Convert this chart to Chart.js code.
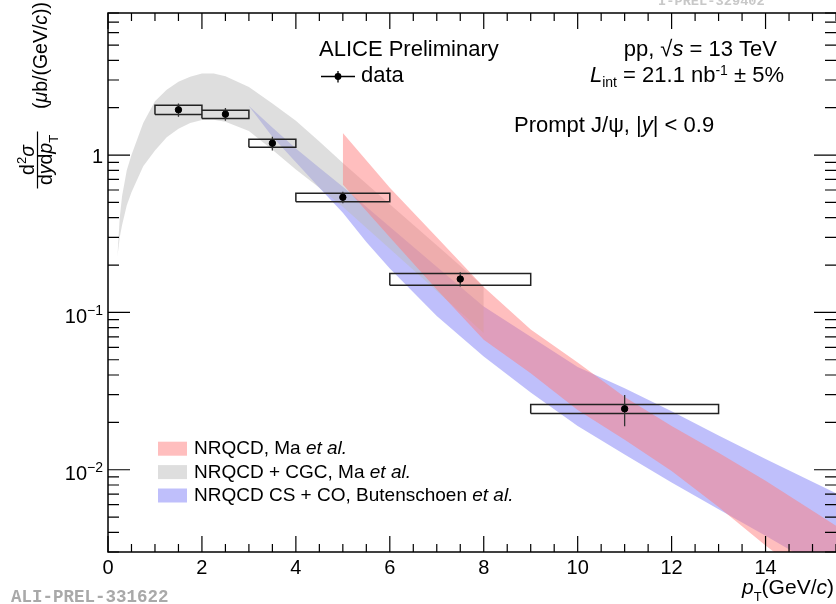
<!DOCTYPE html>
<html>
<head>
<meta charset="utf-8">
<script src="https://cdn.jsdelivr.net/npm/chart.js@4.4.1/dist/chart.umd.min.js"></script>
<style>
	html, body { margin: 0; padding: 0; background: #fff; }
	#c { display: block; }
</style>
</head>
<body>
<canvas id="c" width="836" height="604"></canvas>
<script>
// prompt J/psi cross section, pp 13 TeV, |y| < 0.9
const ptCenter = [1.5, 2.5, 3.5, 5, 7.5, 11];
const ptLow = [1, 2, 3, 4, 6, 9];
const ptHigh = [2, 3, 4, 6, 9, 13];
const xsec = [1.94, 1.82, 1.19, 0.539, 0.163, 0.0244];
const statErr = [0.19, 0.17, 0.12, 0.045, 0.017, 0.0055];
const sysErr = [0.13, 0.11, 0.07, 0.033, 0.014, 0.0016];

// NRQCD, Ma et al.
const maX = [5, 6, 7, 8, 9, 10, 11, 12, 13, 14, 15.5];
const maHigh = [1.38, 0.62, 0.30, 0.145, 0.078, 0.048, 0.029, 0.019, 0.0128, 0.0085, 0.0044];
const maLow = [0.65, 0.30, 0.14, 0.067, 0.041, 0.024, 0.0155, 0.0098, 0.0058, 0.0033, 0.0015];

// NRQCD + CGC, Ma et al.
const cgcX = [0.2, 0.25, 0.3, 0.4, 0.5, 0.75, 1, 1.25, 1.5, 1.75, 2, 2.25, 2.5, 3, 3.5, 4, 4.5, 5, 6, 7, 8];
const cgcHigh = [0.226, 0.40, 0.55, 0.80, 1.0, 1.6, 2.2, 2.6, 2.92, 3.15, 3.30, 3.30, 3.17, 2.71, 2.13, 1.65, 1.22, 0.89, 0.487, 0.267, 0.146];
const cgcLow = [0.226, 0.30, 0.36, 0.48, 0.58, 0.85, 1.07, 1.3, 1.47, 1.6, 1.67, 1.68, 1.63, 1.42, 1.08, 0.81, 0.62, 0.47, 0.254, 0.137, 0.074];

// NRQCD CS + CO, Butenschoen et al.
const bkX = [3, 3.5, 4, 4.5, 5, 5.5, 6, 7, 8, 9, 10, 11, 12, 13, 14, 15.5];
const bkHigh = [2.05, 1.5, 1.1, 0.83, 0.63, 0.47, 0.35, 0.195, 0.109, 0.07, 0.045, 0.033, 0.0235, 0.0165, 0.0117, 0.0071];
const bkLow = [2.05, 1.31, 0.90, 0.62, 0.43, 0.28, 0.19, 0.095, 0.0524, 0.031, 0.019, 0.0125, 0.0083, 0.0056, 0.0038, 0.0021];

const xTicks = [0, 2, 4, 6, 8, 10, 12, 14];
const xTickLabels = ['0', '2', '4', '6', '8', '10', '12', '14'];
const yTicks = [0.01, 0.1, 1];
const yTickLabels = [['10', '\u22122'], ['10', '\u22121'], ['1', '']];

const RED = 'rgba(255,125,125,0.5)';
const GRAY = 'rgba(190,190,190,0.5)';
const BLUE = 'rgba(128,128,248,0.5)';
const NONE = 'rgba(0,0,0,0)';
const FONT = '"Liberation Sans", Arial, Helvetica, sans-serif';

function f(size, style) {
	return (style ? style + ' ' : '') + size + 'px ' + FONT;
}

function band(xs, ys) {
	return xs.map((x, i) => ({x: x, y: ys[i]}));
}

let boxPts = [];
let errPts = [];
for (let i = 0; i < xsec.length; i++) {
	let lo = xsec[i] - sysErr[i], hi = xsec[i] + sysErr[i];
	boxPts.push({x: ptLow[i], y: lo}, {x: ptHigh[i], y: lo}, {x: ptHigh[i], y: hi},
		{x: ptLow[i], y: hi}, {x: ptLow[i], y: lo}, {x: ptLow[i], y: null});
	errPts.push({x: ptCenter[i], y: xsec[i] - statErr[i]}, {x: ptCenter[i], y: xsec[i] + statErr[i]},
		{x: ptCenter[i], y: null});
}

function runsWidth(ctx, runs) {
	let w = 0;
	for (const r of runs) {
		ctx.font = r.font;
		w += ctx.measureText(r.t).width;
	}
	return w;
}

function drawRuns(ctx, runs, x, y, align) {
	if (align === 'right') x -= runsWidth(ctx, runs);
	if (align === 'center') x -= runsWidth(ctx, runs) / 2;
	for (const r of runs) {
		ctx.font = r.font;
		ctx.fillText(r.t, x, y + (r.dy || 0));
		x += ctx.measureText(r.t).width;
	}
}

const alicePlot = {
	id: 'alicePlot',
	afterDraw(chart) {
		const ctx = chart.ctx;
		const a = chart.chartArea;
		const sx = chart.scales.x, sy = chart.scales.y;
		ctx.save();
		ctx.fillStyle = '#000';
		ctx.strokeStyle = '#000';
		ctx.textBaseline = 'alphabetic';

		// frame (right edge falls just outside the picture)
		ctx.lineWidth = 1.5;
		ctx.strokeRect(a.left, a.top, a.right - a.left + 2, a.bottom - a.top);

		// ticks
		ctx.lineWidth = 1.2;
		ctx.beginPath();
		for (let v = 0; v <= sx.max + 1e-9; v += 0.5) {
			let px = sx.getPixelForValue(v);
			let len = xTicks.indexOf(v) != -1 ? 16 : 8;
			ctx.moveTo(px, a.bottom); ctx.lineTo(px, a.bottom - len);
			ctx.moveTo(px, a.top); ctx.lineTo(px, a.top + len);
		}
		for (let k = -3; k <= 0; k++) {
			for (let m = 1; m <= 9; m++) {
				let v = m * Math.pow(10, k);
				if (v < sy.min || v > sy.max) continue;
				let py = sy.getPixelForValue(v);
				let len = m == 1 ? 22 : 11;
				ctx.moveTo(a.left, py); ctx.lineTo(a.left + len, py);
				ctx.moveTo(a.right, py); ctx.lineTo(a.right - len, py);
			}
		}
		ctx.stroke();

		// tick labels
		ctx.font = f(20);
		ctx.textAlign = 'center';
		xTicks.forEach((v, i) => {
			ctx.fillText(xTickLabels[i], sx.getPixelForValue(v), 574);
		});
		ctx.textAlign = 'left';
		yTicks.forEach((v, i) => {
			let py = sy.getPixelForValue(v);
			let lab = yTickLabels[i];
			if (lab[1] === '') {
				drawRuns(ctx, [{t: lab[0], font: f(20)}], 103, py + 7.5, 'right');
			}
			else {
				drawRuns(ctx, [{t: lab[0], font: f(20)}, {t: lab[1], font: f(14), dy: -8}], 103, py + 10.5, 'right');
			}
		});

		// axis titles
		drawRuns(ctx, [{t: 'p', font: f(21, 'italic')}, {t: 'T', font: f(13), dy: 7},
			{t: '(GeV/', font: f(21)}, {t: 'c', font: f(21, 'italic')}, {t: ')', font: f(21)}], 742, 594);

		ctx.save();
		ctx.rotate(-Math.PI / 2);
		// screen (x, y) -> rotated (-y, x)
		drawRuns(ctx, [{t: '(', font: f(19.5)}, {t: '\u03bc', font: f(19.5, 'italic')}, {t: 'b/(GeV/', font: f(19.5)},
			{t: 'c', font: f(19.5, 'italic')}, {t: '))', font: f(19.5)}], -109, 47);
		drawRuns(ctx, [{t: 'd', font: f(19.5)}, {t: '2', font: f(13), dy: -8}, {t: '\u03c3', font: f(19.5, 'italic')}],
			-160, 34, 'center');
		drawRuns(ctx, [{t: 'd', font: f(19.5)}, {t: 'y', font: f(19.5, 'italic')}, {t: 'd', font: f(19.5)},
			{t: 'p', font: f(19.5, 'italic')}, {t: 'T', font: f(13), dy: 6}], -160, 52, 'center');
		ctx.lineWidth = 1.2;
		ctx.beginPath();
		ctx.moveTo(-188.5, 37.5); ctx.lineTo(-131.5, 37.5);
		ctx.stroke();
		ctx.restore();

		// header texts
		drawRuns(ctx, [{t: 'ALICE Preliminary', font: f(22)}], 319, 56);
		ctx.lineWidth = 1.3;
		ctx.beginPath();
		ctx.moveTo(321, 76.5); ctx.lineTo(355, 76.5);
		ctx.moveTo(338, 71); ctx.lineTo(338, 82.5);
		ctx.stroke();
		ctx.beginPath();
		ctx.arc(338, 76.5, 3.4, 0, 2 * Math.PI);
		ctx.fill();
		drawRuns(ctx, [{t: 'data', font: f(22)}], 361, 81.5);

		drawRuns(ctx, [{t: 'pp, \u221a', font: f(22)}, {t: 's', font: f(22, 'italic')}, {t: ' = 13 TeV', font: f(22)}],
			777, 56, 'right');
		drawRuns(ctx, [{t: 'L', font: f(22, 'italic')}, {t: 'int', font: f(14), dy: 5.5}, {t: ' = 21.1 nb', font: f(22)},
			{t: '-1', font: f(14), dy: -7}, {t: ' \u00b1 5%', font: f(22)}], 784, 81.5, 'right');
		drawRuns(ctx, [{t: 'Prompt J/\u03c8, |', font: f(22)}, {t: 'y', font: f(22, 'italic')}, {t: '| < 0.9', font: f(22)}],
			514, 131.5);

		// model legend
		const leg = [
			[RED, [{t: 'NRQCD, Ma ', font: f(19)}, {t: 'et al.', font: f(19, 'italic')}]],
			[GRAY, [{t: 'NRQCD + CGC, Ma ', font: f(19)}, {t: 'et al.', font: f(19, 'italic')}]],
			[BLUE, [{t: 'NRQCD CS + CO, Butenschoen ', font: f(19)}, {t: 'et al.', font: f(19, 'italic')}]]
		];
		leg.forEach((e, i) => {
			let top = 441.7 + i * 23.4;
			ctx.fillStyle = e[0];
			ctx.fillRect(158, top, 29, 14);
			ctx.fillStyle = '#000';
			drawRuns(ctx, e[1], 194, top + 12.5);
		});

		// plot ids
		ctx.fillStyle = '#a9a9a9';
		ctx.font = 'bold 17.5px "Liberation Mono", "Courier New", monospace';
		ctx.fillText('ALI-PREL-331622', 11, 602);
		ctx.fillStyle = '#c8c8c8';
		ctx.font = 'bold 13.7px "Liberation Mono", "Courier New", monospace';
		ctx.fillText('I-PREL-329402', 658, 5);
		ctx.restore();
	}
};

new Chart(document.getElementById('c'), {
	type: 'line',
	data: {
		datasets: [
			{
				data: ptCenter.map((x, i) => ({x: x, y: xsec[i]})),
				showLine: false,
				pointRadius: 3.2,
				pointBackgroundColor: '#000',
				pointBorderColor: '#000',
				pointBorderWidth: 1,
				order: 0
			},
			{
				data: errPts,
				borderColor: '#333',
				borderWidth: 1.3,
				pointRadius: 0,
				spanGaps: false,
				order: 1
			},
			{
				data: boxPts,
				borderColor: '#222',
				borderWidth: 1.5,
				pointRadius: 0,
				spanGaps: false,
				order: 2
			},
			{ data: band(maX, maHigh), fill: '+1', backgroundColor: RED, borderColor: NONE, borderWidth: 1, pointRadius: 0, order: 3 },
			{ data: band(maX, maLow), fill: false, borderColor: NONE, borderWidth: 1, pointRadius: 0, order: 3 },
			{ data: band(cgcX, cgcHigh), fill: '+1', backgroundColor: GRAY, borderColor: NONE, borderWidth: 1, pointRadius: 0, order: 4 },
			{ data: band(cgcX, cgcLow), fill: false, borderColor: NONE, borderWidth: 1, pointRadius: 0, order: 4 },
			{ data: band(bkX, bkHigh), fill: '+1', backgroundColor: BLUE, borderColor: NONE, borderWidth: 1, pointRadius: 0, order: 5 },
			{ data: band(bkX, bkLow), fill: false, borderColor: NONE, borderWidth: 1, pointRadius: 0, order: 5 }
		]
	},
	options: {
		responsive: false,
		animation: false,
		devicePixelRatio: 1,
		layout: { autoPadding: false, padding: { left: 108, top: 13, right: 0, bottom: 52 } },
		plugins: {
			legend: { display: false },
			tooltip: { enabled: false }
		},
		elements: { line: { tension: 0 } },
		scales: {
			x: { type: 'linear', min: 0, max: 15.5, bounds: 'data', display: false },
			y: { type: 'logarithmic', min: 0.003, max: 8, bounds: 'data', display: false }
		}
	},
	plugins: [alicePlot]
});
</script>
</body>
</html>
